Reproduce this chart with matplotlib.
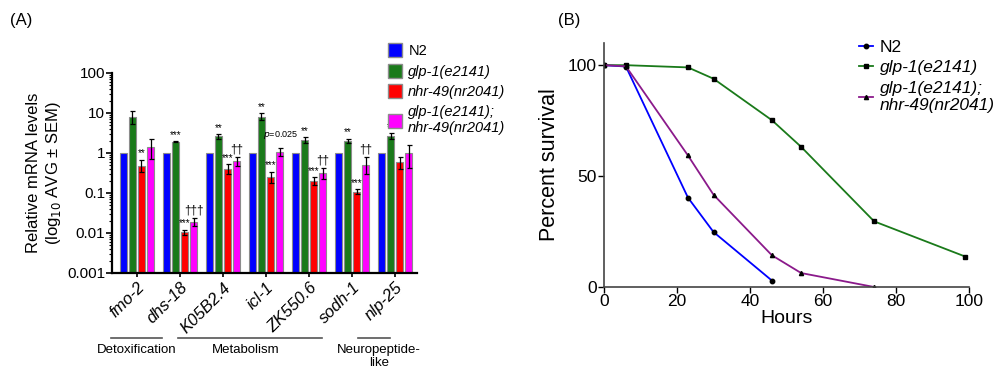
import matplotlib
matplotlib.use("Agg")
import matplotlib.pyplot as plt
from matplotlib.lines import Line2D
from matplotlib.patches import Patch
import numpy as np

plt.rcParams['font.family'] = ['Liberation Sans', 'DejaVu Sans']

# ---------------- Data: panel A ----------------
genes = ['fmo-2', 'dhs-18', 'K05B2.4', 'icl-1', 'ZK550.6', 'sodh-1', 'nlp-25']
n2 = [1, 1, 1, 1, 1, 1, 1]
glp1 = [7.8, 1.9, 2.6, 8.0, 2.1, 2.0, 2.7]
glp1_lo = [5.3, 1.85, 2.2, 6.5, 1.8, 1.8, 2.3]
glp1_hi = [11.5, 1.95, 3.0, 10.0, 2.5, 2.3, 3.1]
nhr49 = [0.47, 0.0105, 0.40, 0.25, 0.20, 0.108, 0.60]
nhr49_lo = [0.33, 0.009, 0.30, 0.18, 0.16, 0.095, 0.40]
nhr49_hi = [0.68, 0.0122, 0.52, 0.34, 0.25, 0.125, 0.78]
combo = [1.4, 0.019, 0.62, 1.05, 0.31, 0.50, 1.0]
combo_lo = [0.7, 0.015, 0.48, 0.85, 0.22, 0.30, 0.42]
combo_hi = [2.3, 0.024, 0.80, 1.30, 0.43, 0.80, 1.58]
glp1_sig = ['', '***', '**', '**', '**', '**', '**']
nhr49_sig = ['**', '***', '***', '***', '***', '***', '']
combo_sig = ['', '†††', '††', '', '††', '††', '']
series_labels = ['N2', 'glp-1(e2141)', 'nhr-49(nr2041)', 'glp-1(e2141);\nnhr-49(nr2041)']
groups = ['Detoxification', 'Metabolism', 'Neuropeptide-\nlike']

# ---------------- Data: panel B ----------------
hours_n2 = [0, 6, 23, 30, 46]
surv_n2 = [100, 99.4, 40.3, 24.8, 2.9]
hours_glp1 = [0, 6, 23, 30, 46, 54, 74, 99]
surv_glp1 = [100, 100, 99, 93.9, 75.2, 63.2, 29.6, 13.7]
hours_combo = [0, 6, 23, 30, 46, 54, 74]
surv_combo = [100, 99.5, 59.3, 41.6, 14.3, 6.3, 0]

blue = '#0000ff'
green = '#1a7a1a'
red = '#ff0000'
magenta = '#ff00ff'
purple = '#8b1a8b'

fig = plt.figure(figsize=(9.99, 3.72), dpi=100)

# ================= Panel A =================
axA = fig.add_axes([112/999, 1-273/372, (417-112)/999, 200/372])
axA.set_yscale('log')
axA.set_ylim(1e-3, 100)
x = np.arange(len(genes))
w = 0.16
offs = [-0.315, -0.105, 0.105, 0.315]
cols = [blue, green, red, magenta]
vals = [n2, glp1, nhr49, combo]
los = [None, glp1_lo, nhr49_lo, combo_lo]
his = [None, glp1_hi, nhr49_hi, combo_hi]
sigs = [None, glp1_sig, nhr49_sig, combo_sig]
base = 1e-3
for k in range(4):
    v = np.array(vals[k], dtype=float)
    axA.bar(x + offs[k], v - base, bottom=base, width=w, color=cols[k],
            edgecolor='#8c8c8c', linewidth=0.8, zorder=2)
    if los[k] is not None:
        lo = np.array(los[k]); hi = np.array(his[k])
        axA.errorbar(x + offs[k], v, yerr=[v - lo, hi - v], fmt='none',
                     ecolor='black', elinewidth=0.9, capsize=1.8, capthick=0.9, zorder=3)
        for i, s in enumerate(sigs[k]):
            if s:
                axA.text(x[i] + offs[k], hi[i] * 1.08, s, ha='center', va='bottom',
                         fontsize=7 if '*' in s else 8.5, zorder=4)
axA.text(x[3] + 0.33, 2.0, r'$\it{p}$=0.025', ha='center', va='bottom', fontsize=6.5)

axA.set_xlim(-0.58, 6.51)
axA.set_xticks(x)
axA.set_xticklabels(genes, rotation=45, ha='right', rotation_mode='anchor',
                    fontstyle='italic', fontsize=12)
axA.set_yticks([1e-3, 1e-2, 1e-1, 1, 10, 100])
axA.set_yticklabels(['0.001', '0.01', '0.1', '1', '10', '100'], fontsize=11)
axA.tick_params(axis='y', which='major', length=4, width=1.2, pad=1)
axA.tick_params(axis='y', which='minor', length=2, width=0.8)
axA.tick_params(axis='x', length=3, width=1.2, pad=2)
for sp in ['top', 'right']:
    axA.spines[sp].set_visible(False)
for sp in ['left', 'bottom']:
    axA.spines[sp].set_linewidth(1.6)
axA.set_ylabel('Relative mRNA levels\n(log$_{10}$ AVG ± SEM)', fontsize=12, labelpad=3)

# group lines and labels (in figure pixels)
grp_lines = [(111, 162), (178, 322), (358, 390)]
grp_centers = [137, 246, 379]
for (a, b), c, g in zip(grp_lines, grp_centers, groups):
    fig.add_artist(Line2D([a/999, b/999], [1-338/372]*2, color='#555555', lw=1.2))
    fig.text(c/999, 1-344/372, g, ha='center', va='top', fontsize=9.5, linespacing=1.15)

handles = [Patch(facecolor=c, edgecolor='#8c8c8c') for c in cols]
legA = fig.legend(handles, series_labels, loc='upper left', bbox_to_anchor=(382/999, 1-37/372),
                  frameon=False, fontsize=10.5, handlelength=1.0, handleheight=1.1,
                  handletextpad=0.4, labelspacing=0.4, borderaxespad=0)
for i, t in enumerate(legA.get_texts()):
    if i > 0:
        t.set_fontstyle('italic')

fig.text(10/999, 1-20/372, '(A)', fontsize=12, va='center')
fig.text(558/999, 1-20/372, '(B)', fontsize=12, va='center')

# ================= Panel B =================
axB = fig.add_axes([604/999, 1-287/372, (969-604)/999, 244/372])
axB.plot(hours_n2, surv_n2, color=blue, lw=1.3, marker='o', ms=3.2,
         mfc='black', mec='black', label='N2')
axB.plot(hours_glp1, surv_glp1, color=green, lw=1.3, marker='s', ms=3.2,
         mfc='black', mec='black', label='glp-1(e2141)')
axB.plot(hours_combo, surv_combo, color=purple, lw=1.3, marker='^', ms=3.0,
         mfc='black', mec='black', label='glp-1(e2141);\nnhr-49(nr2041)')
axB.set_xlim(0, 100)
axB.set_ylim(0, 110)
axB.set_xticks([0, 20, 40, 60, 80, 100])
axB.set_yticks([0, 50, 100])
axB.tick_params(labelsize=12.5, length=4, width=1.0, pad=1)
for sp in ['top', 'right']:
    axB.spines[sp].set_visible(False)
for sp in ['left', 'bottom']:
    axB.spines[sp].set_linewidth(1.2)
    axB.spines[sp].set_color('#444444')
axB.set_xlabel('Hours', fontsize=14, labelpad=1)
axB.set_ylabel('Percent survival', fontsize=15.5, labelpad=6)
legB = axB.legend(loc='upper left', bbox_to_anchor=(852/999, 1-33/372),
                  bbox_transform=fig.transFigure, frameon=False, fontsize=12.5,
                  handlelength=0.8, handletextpad=0.4, labelspacing=0.3, borderaxespad=0)
for i, t in enumerate(legB.get_texts()):
    if i > 0:
        t.set_fontstyle('italic')

fig.savefig('out.png', dpi=100)
